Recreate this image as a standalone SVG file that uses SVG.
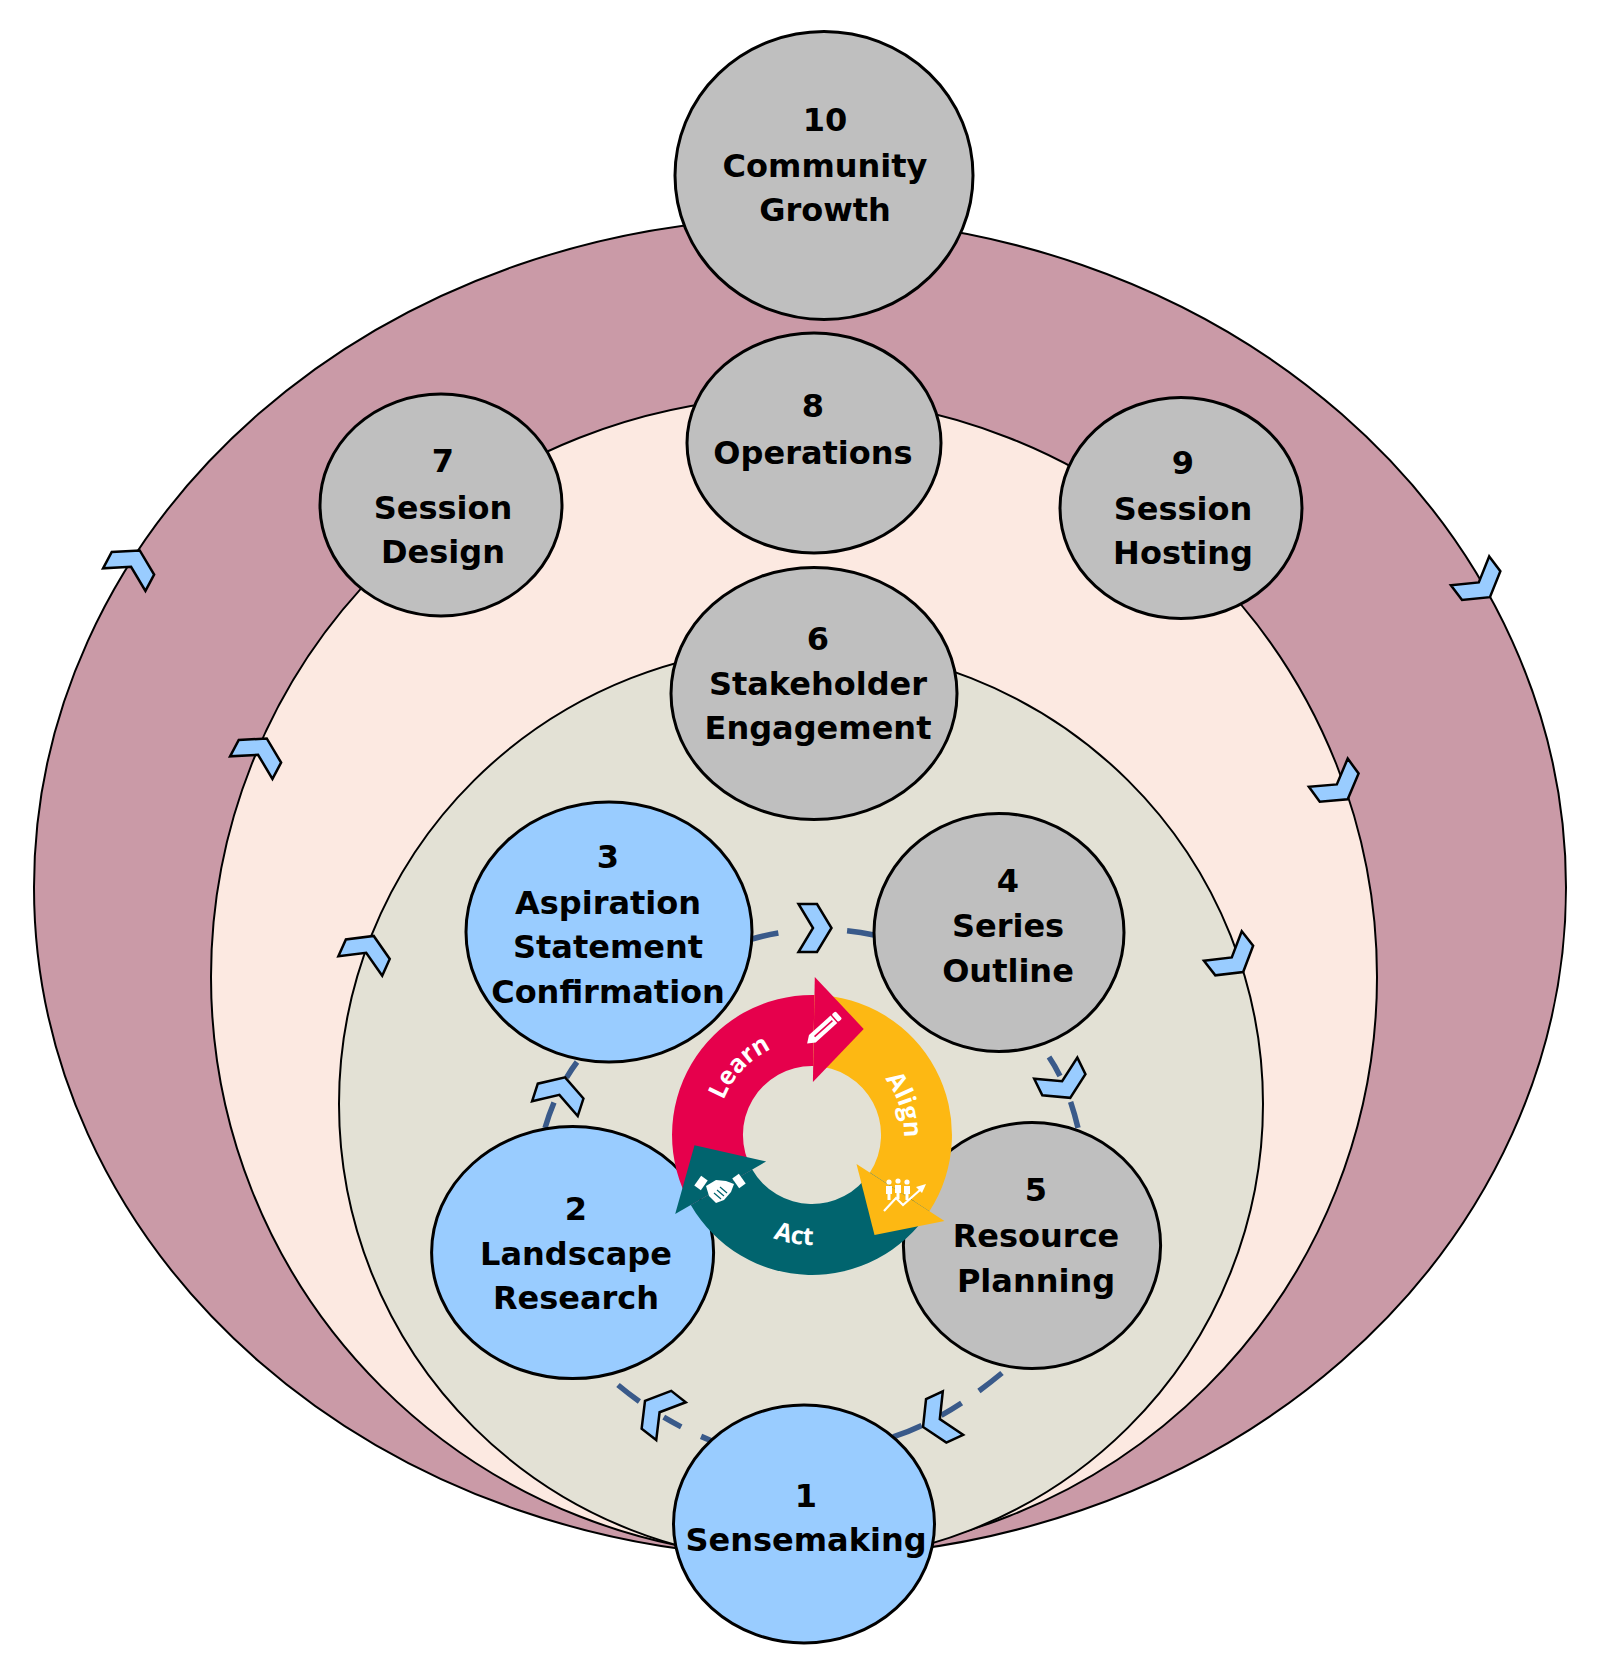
<svg xmlns="http://www.w3.org/2000/svg" width="1600" height="1675" viewBox="0 0 1600 1675">
<defs>
<style>
.ring{stroke:#000;stroke-width:2}
.node{stroke:#000;stroke-width:3}
.gray{fill:#BFBFBF}
.blue{fill:#99CCFF}
.lbl{font-family:"DejaVu Sans","Liberation Sans",sans-serif;font-weight:bold;font-size:32px;fill:#000;text-anchor:middle}
.conn{fill:none;stroke:#3A5A8A;stroke-width:5.5}
.chev{fill:#99CCFF;stroke:#000;stroke-width:2.5;stroke-linejoin:miter}
.wl{font-family:"Open Sans","DejaVu Sans",sans-serif;font-weight:bold;font-size:25px;fill:#fff}
.ico{fill:#fff}
</style>
<polygon id="chev" points="-16.5,-24 2,-24 16.5,0 2,24 -16.5,24 -2,0"/>
<path id="pLearn" d="M 717.1,1130 A 95 95 0 0 1 800.4,1040.7"/>
<path id="pAlign" d="M 860.8,1057 A 92 92 0 0 1 897.3,1169.5"/>
<path id="pAct" d="M 727.7,1205.7 A 110 110 0 0 0 867,1230.3"/>
</defs>
<rect x="0" y="0" width="1600" height="1675" fill="#fff"/>

<g id="rings">
<ellipse class="ring" cx="800" cy="887.5" rx="766" ry="669.5" fill="#CA9AA7"/>
<ellipse class="ring" cx="794" cy="977" rx="583" ry="580" fill="#FCE9E1"/>
<ellipse class="ring" cx="801" cy="1104" rx="462" ry="458" fill="#E3E1D5"/>
<use href="#chev" class="chev" transform="translate(132,565) rotate(-62)"/>
<use href="#chev" class="chev" transform="translate(259,753) rotate(-62)"/>
<use href="#chev" class="chev" transform="translate(367,951) rotate(-66)"/>
<use href="#chev" class="chev" transform="translate(1480,584) rotate(53)"/>
<use href="#chev" class="chev" transform="translate(1338,786) rotate(54)"/>
<use href="#chev" class="chev" transform="translate(1233,959) rotate(52)"/>
</g>

<g id="connectors">
<path class="conn" d="M 618,1385 Q 660,1420 712,1441" stroke-dasharray="27 29 20 22 30"/>
<path class="conn" d="M 545,1128 Q 556,1090 577,1062" stroke-dasharray="27 28 20 50"/>
<path class="conn" d="M 752,939 Q 812,922 874,935" stroke-dasharray="27 69 28 50"/>
<path class="conn" d="M 1049,1057 Q 1068,1085 1078,1128" stroke-dasharray="22 28 27 50"/>
<path class="conn" d="M 1002,1373 Q 945,1420 893,1437" stroke-dasharray="29 21 24 22 31 50"/>
<use href="#chev" class="chev" transform="translate(658,1411) rotate(-142)"/>
<use href="#chev" class="chev" transform="translate(560,1093) rotate(-72)"/>
<use href="#chev" class="chev" transform="translate(815,928) rotate(0)"/>
<use href="#chev" class="chev" transform="translate(1063,1083) rotate(64)"/>
<use href="#chev" class="chev" transform="translate(938,1420) rotate(155)"/>
</g>

<g id="n10"><ellipse class="node gray" cx="824" cy="175.5" rx="149" ry="144"/>
<text class="lbl"><tspan x="825" y="131">10</tspan><tspan x="825" y="177">Community</tspan><tspan x="825" y="221">Growth</tspan></text></g>
<g id="n8"><ellipse class="node gray" cx="814" cy="443" rx="127" ry="110"/>
<text class="lbl"><tspan x="813" y="417">8</tspan><tspan x="813" y="464">Operations</tspan></text></g>
<g id="n7"><ellipse class="node gray" cx="441" cy="505" rx="121" ry="111"/>
<text class="lbl"><tspan x="443" y="472">7</tspan><tspan x="443" y="519">Session</tspan><tspan x="443" y="563">Design</tspan></text></g>
<g id="n9"><ellipse class="node gray" cx="1181" cy="508" rx="121" ry="110.5"/>
<text class="lbl"><tspan x="1183" y="474">9</tspan><tspan x="1183" y="520">Session</tspan><tspan x="1183" y="564">Hosting</tspan></text></g>
<g id="n6"><ellipse class="node gray" cx="814" cy="693.5" rx="143" ry="126"/>
<text class="lbl"><tspan x="818" y="650">6</tspan><tspan x="818" y="695">Stakeholder</tspan><tspan x="818" y="739">Engagement</tspan></text></g>
<g id="n3"><ellipse class="node blue" cx="609" cy="932" rx="143" ry="130"/>
<text class="lbl"><tspan x="608" y="868">3</tspan><tspan x="608" y="914">Aspiration</tspan><tspan x="608" y="958">Statement</tspan><tspan x="608" y="1003">Confirmation</tspan></text></g>
<g id="n4"><ellipse class="node gray" cx="999" cy="932.5" rx="125" ry="119"/>
<text class="lbl"><tspan x="1008" y="892">4</tspan><tspan x="1008" y="937">Series</tspan><tspan x="1008" y="982">Outline</tspan></text></g>
<g id="n5"><ellipse class="node gray" cx="1032" cy="1245.5" rx="128.6" ry="123"/>
<text class="lbl"><tspan x="1036" y="1201">5</tspan><tspan x="1036" y="1247">Resource</tspan><tspan x="1036" y="1292">Planning</tspan></text></g>
<g id="n2"><ellipse class="node blue" cx="572.6" cy="1252.6" rx="141" ry="126"/>
<text class="lbl"><tspan x="576" y="1220">2</tspan><tspan x="576" y="1265">Landscape</tspan><tspan x="576" y="1309">Research</tspan></text></g>
<g id="n1"><ellipse class="node blue" cx="804" cy="1524" rx="130.5" ry="119"/>
<text class="lbl"><tspan x="806" y="1507">1</tspan><tspan x="806" y="1551">Sensemaking</tspan></text></g>

<g id="wheel">
<path fill="#E6004C" d="M 690.8,1205 A 140 140 0 0 1 814.4,995 L 813.2,1066 A 69 69 0 0 0 752.2,1169.5 Z"/>
<path fill="#FDB813" d="M 814.4,995 A 140 140 0 0 1 929.4,1211.2 L 869.9,1172.6 A 69 69 0 0 0 813.2,1066 Z"/>
<path fill="#01646E" d="M 929.4,1211.2 A 140 140 0 0 1 690.8,1205 L 752.2,1169.5 A 69 69 0 0 0 869.9,1172.6 Z"/>
<polygon fill="#E6004C" points="814.8,977 863.7,1028.9 812.9,1082"/>
<polygon fill="#FDB813" points="944.5,1221 874.5,1235.1 856.5,1163.9"/>
<polygon fill="#01646E" points="675.2,1214 694.5,1145.3 766.1,1161.5"/>
<text class="wl"><textPath href="#pLearn" startOffset="50%" text-anchor="middle">Learn</textPath></text>
<text class="wl"><textPath href="#pAlign" startOffset="50%" text-anchor="middle">Align</textPath></text>
<text class="wl"><textPath href="#pAct" startOffset="50%" text-anchor="middle">Act</textPath></text>
<g transform="translate(822,1030) rotate(-42)">
<path class="ico" d="M -20,0 L -13,-5 L 16,-5 L 16,5 L -13,5 Z"/>
<rect class="ico" x="17.5" y="-5" width="5" height="10" rx="1.5"/>
<line x1="-10" y1="0" x2="14" y2="0" stroke="#E6004C" stroke-width="1.6"/>
</g>
<g>
<rect class="ico" x="-4" y="-6" width="8" height="12" transform="translate(701,1183) rotate(35)"/>
<rect class="ico" x="-4" y="-6" width="8" height="12" transform="translate(739,1181) rotate(-35)"/>
<path class="ico" d="M 706,1186 L 716,1180 L 726,1181 L 734,1184 L 731,1192 L 724,1200 L 716,1203 L 709,1196 Z"/>
<path d="M 714,1193 L 721,1199 M 717,1190 L 724,1196 M 720,1187 L 727,1193" stroke="#01646E" stroke-width="1.2" fill="none"/>
</g>
<g>
<circle class="ico" cx="889" cy="1182" r="2.6"/>
<circle class="ico" cx="898" cy="1181" r="2.6"/>
<circle class="ico" cx="907" cy="1182" r="2.6"/>
<path class="ico" d="M 886,1186 h6 v8 h-1.5 v6 h-3 v-6 h-1.5 Z M 895,1185 h6 v8 h-1.5 v6 h-3 v-6 h-1.5 Z M 904,1186 h6 v8 h-1.5 v6 h-3 v-6 h-1.5 Z"/>
<polyline points="884,1211 896,1198 903,1205 920,1190" fill="none" stroke="#fff" stroke-width="2.2"/>
<polygon class="ico" points="926,1184 916,1187 922,1193"/>
</g>
</g>
</svg>
